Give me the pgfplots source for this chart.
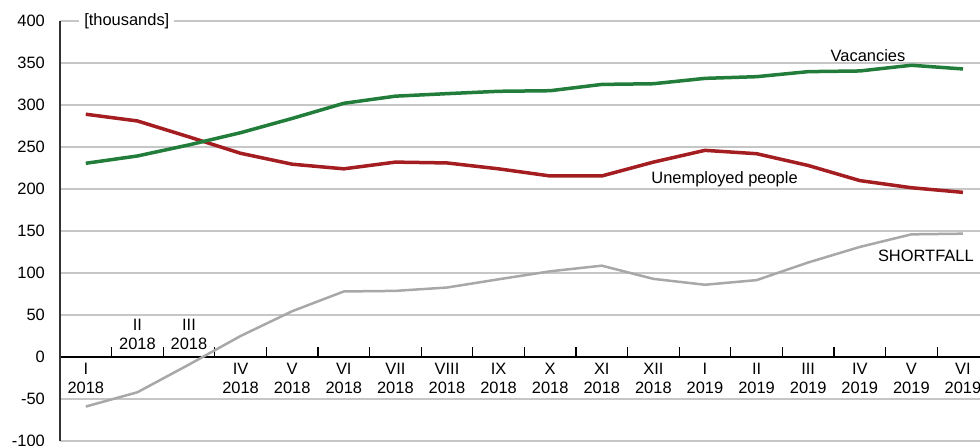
\documentclass[border=0pt]{standalone}
\usepackage{fontspec}
\setmainfont{Liberation Sans}
\usepackage{pgfplots}
\pgfplotsset{compat=1.18}
\definecolor{vacgreen}{HTML}{227D3A}
\definecolor{unred}{HTML}{A31D21}
\definecolor{shgray}{HTML}{A8A8A8}
\definecolor{gridgray}{HTML}{C6C6C6}
\newcommand\lf{\fontsize{16.5}{19}\selectfont}
\begin{document}
\begin{tikzpicture}
\begin{axis}[
  scale only axis, width=920bp, height=420bp,
  xmin=-0.5, xmax=17.33, ymin=-100, ymax=400,
  axis x line*=middle, axis y line*=left,
  x axis line style={line width=2bp, black},
  y axis line style={line width=1.5bp, black!80},
  ytick={-100,-50,0,50,100,150,200,250,300,350,400},
  yticklabels={-100,-50,0,50,100,150,200,250,300,350,400},
  ymajorgrids, grid style={gridgray, line width=1.5bp},
  xtick={0,...,17},
  xticklabels={I\\2018,{},{},IV\\2018,V\\2018,VI\\2018,VII\\2018,VIII\\2018,IX\\2018,X\\2018,XI\\2018,XII\\2018,I\\2019,II\\2019,III\\2019,IV\\2019,V\\2019,VI\\2019},
  minor xtick={0.5,1.5,...,16.5},
  major tick length=0pt,
  minor tick length=10bp,
  tick align=center,
  minor x tick style={yshift=5bp, black, line width=1.2bp},
  xticklabel style={font=\lf, align=center, anchor=north, inner sep=0pt, yshift=-6bp},
  yticklabel style={font=\lf, anchor=east, inner sep=0pt, xshift=-15bp},
  clip=false,
]
\addplot[unred, line width=3.5bp, line join=round] coordinates {
(0,289) (1,281) (2,262) (3,242.5) (4,229.5) (5,224) (6,232) (7,231) (8,224) (9,215.5) (10,215.5) (11,232) (12,246) (13,242) (14,228) (15,210) (16,201.5) (17,196)};
\addplot[vacgreen, line width=3.5bp, line join=round] coordinates {
(0,230.6) (1,239.3) (2,252.5) (3,267) (4,284) (5,302) (6,310.5) (7,313.5) (8,316.3) (9,317) (10,324.5) (11,325.3) (12,331.7) (13,333.7) (14,339.7) (15,340.5) (16,347.3) (17,342.9)};
\addplot[shgray, line width=2.5bp, line join=round] coordinates {
(0,-59) (1,-42) (2,-9) (3,25) (4,54.5) (5,78) (6,78.7) (7,82.7) (8,92.5) (9,102) (10,108.7) (11,93) (12,86) (13,91.5) (14,112.5) (15,131) (16,146) (17,146.8)};
\node[font=\lf, anchor=south, align=center, inner sep=0pt, yshift=7bp] at (axis cs:1,0) {II\\2018};
\node[font=\lf, anchor=south, align=center, inner sep=0pt, yshift=7bp] at (axis cs:2,0) {III\\2018};
\node[font=\lf, anchor=base, inner sep=0pt] at (axis cs:15.16,351.2) {Vacancies};
\node[font=\lf, anchor=base, inner sep=0pt] at (axis cs:12.38,206.8) {Unemployed people};
\node[font=\lf, anchor=base, inner sep=0pt] at (axis cs:16.28,113.5) {SHORTFALL};
\node[font=\lf, fill=white, inner xsep=5bp, inner ysep=2bp] at (axis cs:0.795,400) {[thousands]};
\end{axis}
\pgfresetboundingbox
\useasboundingbox ([xshift=-60bp,yshift=-5bp]current axis.south west) rectangle ([yshift=21bp]current axis.north east);
\end{tikzpicture}
\end{document}
